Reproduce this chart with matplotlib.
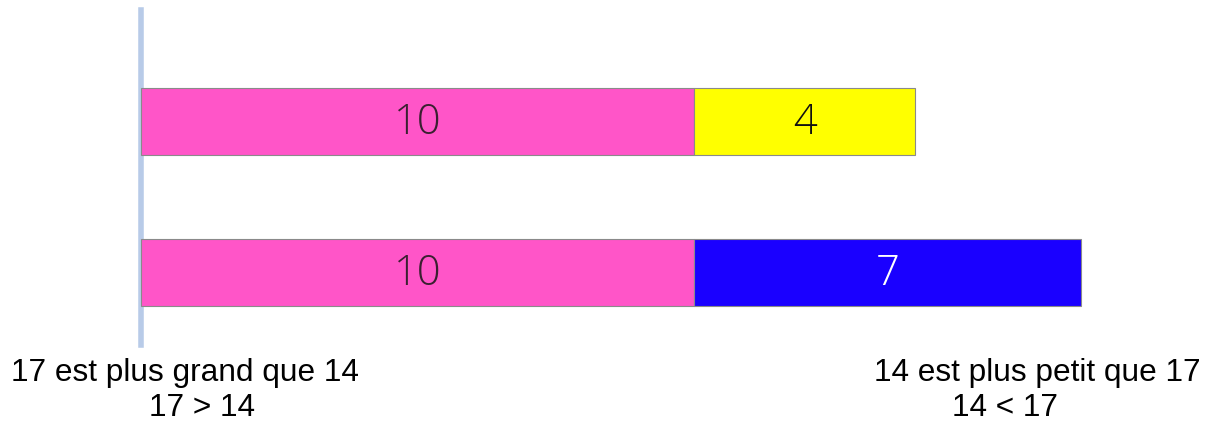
import matplotlib
matplotlib.use("Agg")
import matplotlib.pyplot as plt

# Data
rows = ["14", "17"]
tens = [10, 10]
ones = [4, 7]
ones_colors = ["#ffff00", "#1a00ff"]
ones_text_colors = ["#111111", "#ffffff"]
caption_left = ["17 est plus grand que 14", "17 > 14"]
caption_right = ["14 est plus petit que 17", "14 < 17"]

W, H = 1211, 424
fig = plt.figure(figsize=(W / 100, H / 100), dpi=100)
ax = fig.add_axes([0, 0, 1, 1])

unit = 55.3
x0 = 141
ax.set_xlim(-x0 / unit, (W - x0) / unit)
spacing = 151
yc0 = 121.5
ax.set_ylim((H - yc0) / spacing, -yc0 / spacing)
ax.axis("off")

ypos = list(range(len(rows)))
bh = 0.44
ax.barh(ypos, tens, height=bh, color="#ff55c8", edgecolor="#8a8a8a", linewidth=0.8)
ax.barh(ypos, ones, left=tens, height=bh, color=ones_colors, edgecolor="#8a8a8a", linewidth=0.8)

lab = dict(ha="center", va="center", fontsize=30, family="Open Sans", fontweight="light")
for i in ypos:
    ax.text(tens[i] / 2, i + 0.01, str(tens[i]), color="#3a2030", **lab)
    ax.text(tens[i] + ones[i] / 2, i + 0.01, str(ones[i]), color=ones_text_colors[i], **lab)

ax.axvline(0.0, ymin=1 - 345 / H, ymax=1 - 10 / H, color="#b8cbe8", linewidth=4, zorder=0)

font = dict(family="Liberation Sans", fontsize=22.8, color="black")
fig.text(185 / W, 1 - 381 / H, caption_left[0], ha="center", va="baseline", **font)
fig.text(202 / W, 1 - 416 / H, caption_left[1], ha="center", va="baseline", **font)
fig.text(1037 / W, 1 - 381 / H, caption_right[0], ha="center", va="baseline", **font)
fig.text(1005 / W, 1 - 416 / H, caption_right[1], ha="center", va="baseline", **font)

fig.savefig("out.png", dpi=100)
